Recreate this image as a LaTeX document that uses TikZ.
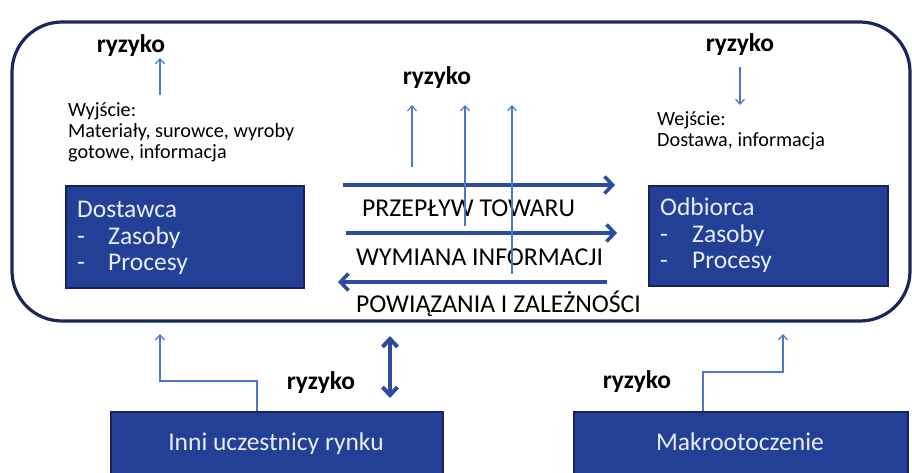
\documentclass[tikz,border=0pt]{standalone}
\usepackage{fontspec}
\setmainfont{Carlito}
\usetikzlibrary{arrows.meta}
\definecolor{boxfill}{HTML}{234096}
\definecolor{boxborder}{HTML}{17215C}
\definecolor{frameC}{HTML}{1C2658}
\definecolor{thickC}{HTML}{2C4C9E}
\definecolor{thinC}{HTML}{4A78C8}
\definecolor{boxtext}{HTML}{E8EEF8}
\tikzset{
  bluebox/.style={draw=boxborder, line width=2pt, fill=boxfill, inner sep=0pt, anchor=north west},
  boxlabel/.style={text=boxtext, font=\fontsize{25.5}{30}\selectfont, inner sep=0pt, anchor=base west},
  boxtitle/.style={text=boxtext, font=\fontsize{25.5}{30}\selectfont, inner sep=0pt, anchor=base},
  risk/.style={font=\bfseries\fontsize{25.5}{30}\selectfont, inner sep=0pt, anchor=base},
  note/.style={font=\fontsize{20.2}{24}\selectfont, inner sep=0pt, anchor=base west},
  flowlabel/.style={font=\fontsize{25.7}{30}\selectfont, inner sep=0pt, anchor=base west},
  thinarrow/.style={draw=thinC, line width=1.2pt, -{Straight Barb[length=5pt,width=9pt,line width=1.2pt]}},
  thickarrow/.style={draw=thickC, line width=3.6pt, -{Straight Barb[length=8pt,width=17pt,line width=3.6pt]}},
  dblarrow/.style={draw=thickC, line width=4pt, {Straight Barb[length=8pt,width=15pt,line width=4pt]}-{Straight Barb[length=8pt,width=15pt,line width=4pt]}},
}
\begin{document}
\begin{tikzpicture}[x=1pt,y=-1pt]
\useasboundingbox (0,0) rectangle (912,473);
% frame
\draw[frameC, line width=3.2pt, rounded corners=50pt] (12,22) rectangle (910,321);

% boxes
\node[bluebox, minimum width=238pt, minimum height=102pt] (dost) at (65,185) {};
\node[bluebox, minimum width=239pt, minimum height=100pt] (odb) at (648,185) {};
\node[bluebox, minimum width=332pt, minimum height=80pt] (inni) at (110,411) {};
\node[bluebox, minimum width=334pt, minimum height=80pt] (makro) at (573,411) {};

% box texts
\node[boxlabel] (d1) at (77,217) {Dostawca};
\node[boxlabel] (d2) at (77,244) {-};
\node[boxlabel] (d3) at (108,244) {Zasoby};
\node[boxlabel] (d4) at (77,270) {-};
\node[boxlabel] (d5) at (108,270) {Procesy};
\node[boxlabel] (o1) at (660,215) {Odbiorca};
\node[boxlabel] (o2) at (660,242) {-};
\node[boxlabel] (o3) at (692,242) {Zasoby};
\node[boxlabel] (o4) at (660,268) {-};
\node[boxlabel] (o5) at (692,268) {Procesy};
\node[boxtitle] (innit) at (276,450) {Inni uczestnicy rynku};
\node[boxtitle] (makrot) at (740,450) {Makrootoczenie};

% risk labels
\node[risk] (r1) at (131,53) {ryzyko};
\node[risk] (r2) at (740,52) {ryzyko};
\node[risk] (r3) at (437,85) {ryzyko};
\node[risk] (r4) at (321,389) {ryzyko};
\node[risk] (r5) at (637,388) {ryzyko};

% notes
\node[note] (w1) at (68,117) {Wyjście:};
\node[note] (w2) at (68,138) {Materiały, surowce, wyroby};
\node[note] (w3) at (68,159) {gotowe, informacja};
\node[note] (e1) at (657,126) {Wejście:};
\node[note] (e2) at (657,147) {Dostawa, informacja};

% flow labels
\node[flowlabel] (f1) at (362,216) {PRZEPŁYW TOWARU};
\node[flowlabel] (f2) at (356,265) {WYMIANA INFORMACJI};
\node[flowlabel] (f3) at (356,312) {POWIĄZANIA I ZALEŻNOŚCI};

% coordinates for arrows
\coordinate (a1s) at (160,95); \coordinate (a1e) at (160,58);
\coordinate (a2s) at (740,67); \coordinate (a2e) at (740,105);
\coordinate (c1s) at (412,167); \coordinate (c1e) at (412,105);
\coordinate (c2s) at (465,226); \coordinate (c2e) at (465,105);
\coordinate (c3s) at (512,274); \coordinate (c3e) at (512,105);
\coordinate (t1s) at (343,185); \coordinate (t1e) at (615,185);
\coordinate (t2s) at (346,233); \coordinate (t2e) at (617,233);
\coordinate (t3s) at (607,282); \coordinate (t3e) at (338,282);
\coordinate (dbl1) at (390,336); \coordinate (dbl2) at (390,398);
\coordinate (b1s) at (257,411); \coordinate (b1a) at (257,381); \coordinate (b1b) at (160,381); \coordinate (b1e) at (160,334);
\coordinate (b2s) at (703,411); \coordinate (b2a) at (703,372); \coordinate (b2b) at (783,372); \coordinate (b2e) at (783,334);

\draw[thinarrow] (a1s) -- (a1e);
\draw[thinarrow] (a2s) -- (a2e);
\draw[thickarrow] (t1s) -- (t1e);
\draw[thickarrow] (t2s) -- (t2e);
\draw[thickarrow] (t3s) -- (t3e);
\draw[thinarrow] (c1s) -- (c1e);
\draw[thinarrow] (c2s) -- (c2e);
\draw[thinarrow] (c3s) -- (c3e);
\draw[dblarrow] (dbl1) -- (dbl2);
\draw[thinarrow] (b1s) -- (b1a) -- (b1b) -- (b1e);
\draw[thinarrow] (b2s) -- (b2a) -- (b2b) -- (b2e);
\end{tikzpicture}
\end{document}
